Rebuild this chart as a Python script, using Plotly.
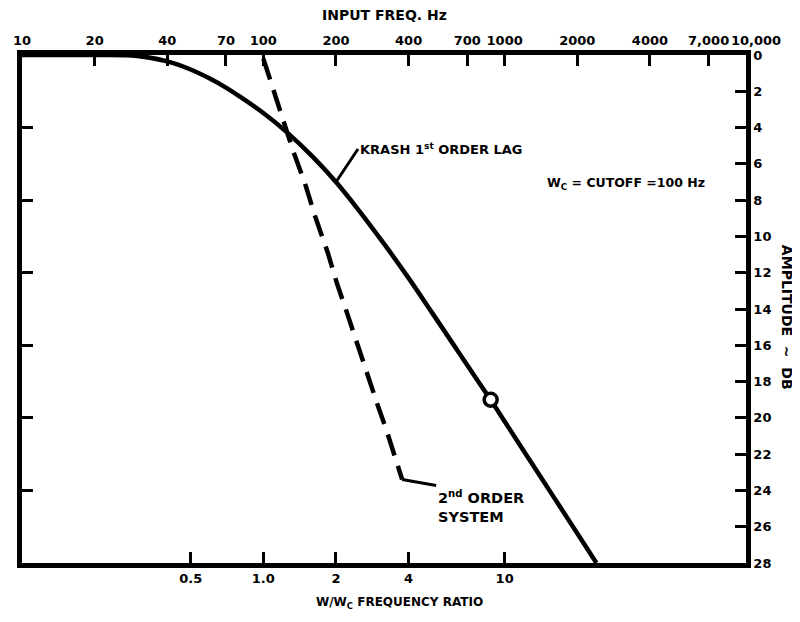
import math
import plotly.graph_objects as go

# ---------------- data ----------------
cutoff_hz = 100

# KRASH 1st order lag (solid)
lag_freq_hz = [10, 20, 30, 40, 50, 60, 70, 80, 100, 125, 160, 200, 250, 316,
               400, 500, 631, 800, 875, 1000, 1259, 1585, 1995, 2400]
lag_amp_db = [0.0, 0.0, 0.05, 0.35, 0.8, 1.3, 1.8, 2.3, 3.2, 4.25, 5.6, 7.0,
              8.6, 10.4, 12.3, 14.2, 16.2, 18.25, 19.0, 20.2, 22.25, 24.3,
              26.35, 28.0]

# 2nd order system (dashed)
second_freq_hz = [100, 115, 123, 133, 149, 164, 185, 202, 222, 244, 269, 296, 326, 352, 376]
second_amp_db = [0.2, 2.8, 4.0, 5.3, 7.1, 8.9, 10.9, 12.6, 14.2, 15.9, 17.5, 19.2, 20.8, 22.3, 23.4]

# marked point on the 1st order lag curve
marker_freq_hz = [875]
marker_amp_db = [19.0]

# axis ticks
top_tick_hz = [10, 20, 40, 70, 100, 200, 400, 700, 1000, 2000, 4000, 7000]
top_tick_labels = ["10", "20", "40", "70", "100", "200", "400", "700", "1000",
                   "2000", "4000", "7,000"]
top_end_hz = [10000]
top_end_labels = ["10,000"]
ratio_ticks = [0.5, 1.0, 2, 4, 10]
ratio_labels = ["0.5", "1.0", "2", "4", "10"]
amp_ticks = list(range(0, 29, 2))
left_ticks = [4, 8, 12, 16, 20, 24]

# ---------------- styling ----------------
FONT = "DejaVu Sans"
BLACK = "black"


def tf(size):
    return dict(family=FONT, size=size, color=BLACK, weight="bold")


fig = go.Figure()

fig.add_trace(go.Scatter(
    x=lag_freq_hz, y=lag_amp_db, mode="lines",
    line=dict(color=BLACK, width=4.5, shape="spline", smoothing=1.0),
    showlegend=False, hoverinfo="skip"))

fig.add_trace(go.Scatter(
    x=second_freq_hz, y=second_amp_db, mode="lines",
    line=dict(color=BLACK, width=4.5, dash="22px,11px"),
    showlegend=False, hoverinfo="skip"))

fig.add_trace(go.Scatter(
    x=marker_freq_hz, y=marker_amp_db, mode="markers",
    marker=dict(symbol="circle", size=13, color="white",
                line=dict(color=BLACK, width=3.5)),
    showlegend=False, hoverinfo="skip"))

# invisible traces so the secondary axes are drawn
fig.add_trace(go.Scatter(
    x=[top_tick_hz[0]], y=[amp_ticks[0]], xaxis="x2", yaxis="y2",
    mode="markers", marker=dict(opacity=0), showlegend=False, hoverinfo="skip"))
fig.add_trace(go.Scatter(
    x=[top_tick_hz[0]], y=[amp_ticks[0]], xaxis="x3", yaxis="y",
    mode="markers", marker=dict(opacity=0), showlegend=False, hoverinfo="skip"))

axis_common = dict(showgrid=False, zeroline=False, showline=True,
                   linecolor=BLACK, linewidth=4.5, ticks="inside",
                   tickcolor=BLACK, tickwidth=3, ticklen=11,
                   automargin=False, tickangle=0)

# the page body adds an 8px offset, so the figure is placed to compensate
fig.update_layout(
    width=792, height=606,
    margin=dict(l=14, r=54, t=47, b=51),
    paper_bgcolor="white", plot_bgcolor="white",
    xaxis=dict(type="log", range=[1, 4], side="bottom",
               tickmode="array",
               tickvals=[r * cutoff_hz for r in ratio_ticks],
               ticktext=ratio_labels, tickfont=tf(13), **axis_common),
    xaxis2=dict(type="log", range=[1, 4], side="top", overlaying="x",
                anchor="y", tickmode="array", tickvals=top_tick_hz,
                ticktext=top_tick_labels, tickfont=tf(13), **axis_common),
    xaxis3=dict(type="log", range=[1, 4], side="top", overlaying="x",
                anchor="y", tickmode="array", tickvals=top_end_hz,
                ticktext=top_end_labels, tickfont=tf(13),
                ticklabelshift=10, showgrid=False, zeroline=False,
                showline=True, linecolor=BLACK, linewidth=4.5,
                ticks="inside", ticklen=0, tickwidth=0.1,
                automargin=False, tickangle=0),
    yaxis=dict(range=[28, 0], side="right", tickmode="array",
               tickvals=amp_ticks, ticktext=[str(v) for v in amp_ticks],
               tickfont=tf(13), **axis_common),
    yaxis2=dict(range=[28, 0], side="left", overlaying="y", anchor="x",
                tickmode="array", tickvals=left_ticks,
                showticklabels=False, **axis_common),
)

annotations = [
    dict(text="INPUT FREQ. Hz", xref="paper", yref="paper", x=0.5, y=1.079,
         showarrow=False, font=tf(14), xanchor="center", yanchor="middle"),
    dict(text="W/W<sub>C</sub> FREQUENCY RATIO", xref="paper", yref="paper",
         x=0.522, y=-0.079, showarrow=False, font=tf(12),
         xanchor="center", yanchor="middle"),
    dict(text="AMPLITUDE  ~  DB", xref="paper", yref="paper", x=1.057, y=0.484,
         showarrow=False, font=tf(14), textangle=90,
         xanchor="center", yanchor="middle"),
    dict(text="W<sub>C</sub> = CUTOFF =100 Hz", xref="paper", yref="paper",
         x=0.722, y=0.748, showarrow=False, font=tf(12.5),
         xanchor="left", yanchor="middle"),
    dict(text="KRASH 1<sup>st</sup> ORDER LAG", xref="x", yref="y",
         x=math.log10(lag_freq_hz[11]), y=lag_amp_db[11],
         ax=22, ay=-33, showarrow=True, arrowhead=0, arrowwidth=3,
         arrowcolor=BLACK, font=tf(13), xanchor="left", yanchor="middle"),
    dict(text="2<sup>nd</sup> ORDER<br>SYSTEM", xref="x", yref="y",
         x=math.log10(second_freq_hz[-1]), y=second_amp_db[-1],
         ax=34, ay=6, showarrow=True, arrowhead=0, arrowwidth=3,
         arrowcolor=BLACK, font=tf(14.5), xanchor="left", yanchor="top",
         align="left"),
]
fig.update_layout(annotations=annotations)

fig.write_html("out.html")
